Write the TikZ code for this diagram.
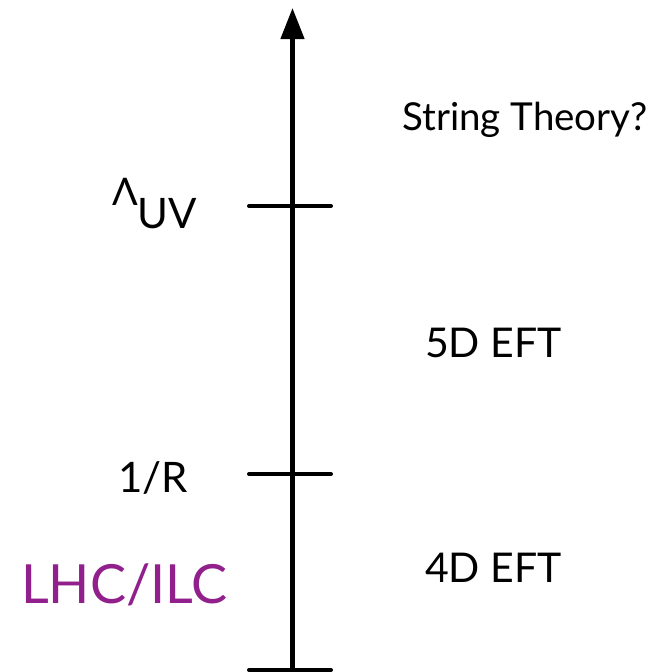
\documentclass[tikz,border=0pt]{standalone}
\usepackage{fontspec}
\setmainfont{Lato}
\usetikzlibrary{arrows.meta}
\definecolor{lhcpurple}{RGB}{146,32,140}
\tikzset{
  scale lbl/.style={anchor=base west, inner sep=0pt},
  tick line/.style={line width=4pt, line cap=round},
}

\begin{document}
\begin{tikzpicture}[x=1pt,y=-1pt]
\useasboundingbox (0,0) rectangle (654,672);
\coordinate (bot) at (292.5,672);
\coordinate (top) at (292.5,8);
\draw[line width=4.5pt, -{Triangle[length=31pt,width=23pt]}] (bot) -- (top);
\coordinate (uvL) at (249,206); \coordinate (uvR) at (331,206);
\coordinate (rL) at (249,474); \coordinate (rR) at (331,474);
\coordinate (bL) at (249,670); \coordinate (bR) at (331,670);
\draw[tick line] (uvL) -- (uvR);
\draw[tick line] (rL) -- (rR);
\draw[tick line] (bL) -- (bR);
\node[scale lbl, font=\fontsize{38.5}{42}\selectfont] (string) at (402,130) {String Theory?};
\node[scale lbl, font=\fontsize{41}{46}\selectfont] (five) at (425,357) {5D EFT};
\node[scale lbl, font=\fontsize{41}{46}\selectfont] (four) at (425,582) {4D EFT};
\node[scale lbl, font=\fontsize{38}{42}\selectfont] (lam) at (112,205) {Λ\raisebox{-23pt}{\fontsize{42}{46}\selectfont UV}};
\node[scale lbl, font=\fontsize{42}{46}\selectfont] (invR) at (118,492) {1/R};
\node[scale lbl, font=\fontsize{54}{58}\selectfont, text=lhcpurple] (lhc) at (21,603) {LHC/ILC};
\end{tikzpicture}
\end{document}
